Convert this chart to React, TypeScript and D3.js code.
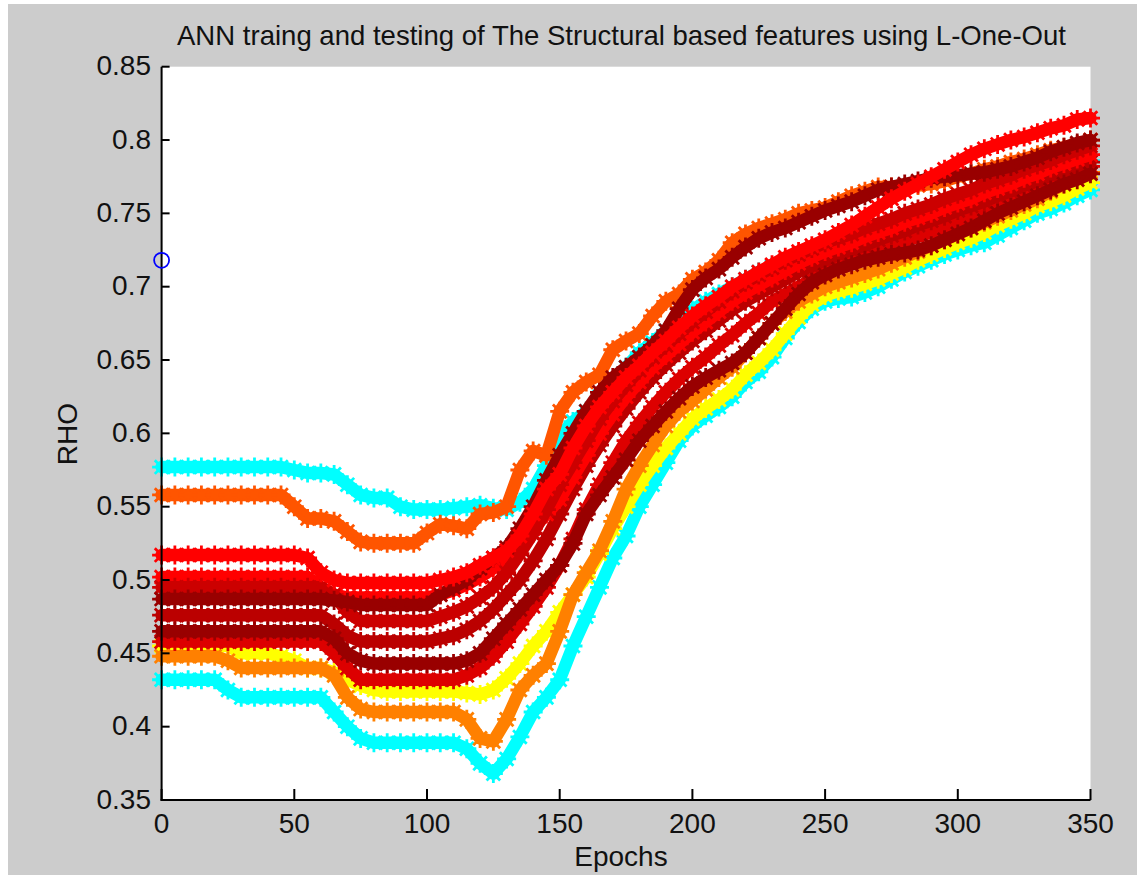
import React from "react";
import * as d3 from "d3";

// Epoch grid of the sampled points
const EPOCHS: number[] = d3.range(0, 351, 5);

const X_TICKS = [0, 50, 100, 150, 200, 250, 300, 350];
const Y_TICKS = [0.35, 0.4, 0.45, 0.5, 0.55, 0.6, 0.65, 0.7, 0.75, 0.8, 0.85];
const Y_TICK_LABELS = ["0.35", "0.4", "0.45", "0.5", "0.55", "0.6", "0.65", "0.7", "0.75", "0.8", "0.85"];

const TITLE = "ANN traing and testing of The Structural based features using L-One-Out";
const X_LABEL = "Epochs";
const Y_LABEL = "RHO";

// single point (blue circle)
const CIRCLE_POINT = { epoch: 0, rho: 0.718 };

// Series values, one per entry of EPOCHS (0,5,...,350)
const cyanHigh = [
  0.577, 0.577, 0.577, 0.577, 0.577, 0.577, 0.577, 0.577, 0.577, 0.577,
  0.575, 0.573, 0.573, 0.572, 0.565, 0.558, 0.556, 0.556, 0.55, 0.548,
  0.548, 0.548, 0.549, 0.55, 0.551, 0.549, 0.548, 0.553, 0.562, 0.578,
  0.598, 0.608, 0.615, 0.625, 0.635, 0.645, 0.655, 0.662, 0.67, 0.678,
  0.684, 0.69, 0.695, 0.7, 0.705, 0.71, 0.714, 0.717, 0.72, 0.722,
  0.725, 0.728, 0.73, 0.733, 0.736, 0.738, 0.74, 0.743, 0.746, 0.75,
  0.753, 0.756, 0.76, 0.763, 0.766, 0.77, 0.774, 0.777, 0.78, 0.783,
  0.786,
];
const cyanLow = [
  0.432, 0.432, 0.432, 0.432, 0.432, 0.425, 0.42, 0.42, 0.42, 0.42,
  0.42, 0.42, 0.42, 0.41, 0.4, 0.392, 0.389, 0.389, 0.389, 0.389,
  0.389, 0.389, 0.389, 0.385, 0.375, 0.368, 0.378, 0.393, 0.41, 0.42,
  0.432, 0.455, 0.475, 0.495, 0.515, 0.53, 0.55, 0.565, 0.58, 0.595,
  0.605, 0.612, 0.618, 0.625, 0.635, 0.642, 0.652, 0.665, 0.676, 0.685,
  0.69, 0.692, 0.693, 0.696, 0.7, 0.705, 0.71, 0.714, 0.718, 0.722,
  0.725, 0.728, 0.73, 0.735, 0.74, 0.745, 0.75, 0.753, 0.757, 0.762,
  0.766,
];
const yellow = [
  0.455, 0.455, 0.455, 0.455, 0.455, 0.455, 0.45, 0.45, 0.45, 0.448,
  0.445, 0.44, 0.44, 0.437, 0.432, 0.428, 0.425, 0.424, 0.424, 0.424,
  0.424, 0.424, 0.424, 0.423, 0.422, 0.425, 0.433, 0.443, 0.455, 0.465,
  0.478, 0.49, 0.502, 0.518, 0.535, 0.55, 0.565, 0.578, 0.59, 0.6,
  0.61, 0.617, 0.623, 0.63, 0.64, 0.648, 0.657, 0.668, 0.679, 0.688,
  0.694, 0.697, 0.699, 0.702, 0.705, 0.709, 0.713, 0.718, 0.722, 0.726,
  0.73, 0.733, 0.737, 0.742, 0.746, 0.75, 0.755, 0.758, 0.762, 0.767,
  0.771,
];
const orange = [
  0.448, 0.448, 0.448, 0.448, 0.448, 0.445, 0.44, 0.44, 0.44, 0.44,
  0.44, 0.44, 0.44, 0.435, 0.42, 0.412, 0.41, 0.41, 0.41, 0.41,
  0.41, 0.41, 0.41, 0.405, 0.392, 0.39, 0.405, 0.425, 0.435, 0.443,
  0.465, 0.49, 0.505, 0.52, 0.54, 0.562, 0.578, 0.592, 0.605, 0.615,
  0.622, 0.63, 0.638, 0.645, 0.655, 0.665, 0.675, 0.683, 0.69, 0.695,
  0.7, 0.703, 0.706, 0.709, 0.712, 0.716, 0.72, 0.724, 0.728, 0.732,
  0.736, 0.74, 0.744, 0.748, 0.752, 0.756, 0.76, 0.765, 0.77, 0.775,
  0.778,
];
const orangeRed = [
  0.558, 0.558, 0.558, 0.558, 0.558, 0.558, 0.558, 0.558, 0.558, 0.558,
  0.55, 0.542, 0.542, 0.54, 0.533, 0.526, 0.525, 0.525, 0.525, 0.525,
  0.532, 0.538, 0.537, 0.535, 0.545, 0.546, 0.55, 0.575, 0.588, 0.585,
  0.615, 0.628, 0.635, 0.64, 0.657, 0.663, 0.668, 0.68, 0.69, 0.695,
  0.705, 0.71, 0.718, 0.73, 0.736, 0.74, 0.743, 0.746, 0.75, 0.752,
  0.754, 0.758, 0.762, 0.765, 0.768, 0.768, 0.768, 0.769, 0.77, 0.772,
  0.775, 0.777, 0.78, 0.782, 0.785, 0.787, 0.79, 0.793, 0.795, 0.797,
  0.8,
];
const redLow = [
  0.458, 0.458, 0.458, 0.458, 0.458, 0.458, 0.458, 0.458, 0.458, 0.458,
  0.458, 0.458, 0.458, 0.45, 0.44, 0.432, 0.432, 0.432, 0.432, 0.432,
  0.432, 0.432, 0.432, 0.435, 0.44, 0.448, 0.458, 0.47, 0.482, 0.495,
  0.51, 0.528, 0.548, 0.565, 0.58, 0.595, 0.607, 0.618, 0.628, 0.637,
  0.645, 0.652, 0.66, 0.667, 0.675, 0.682, 0.69, 0.695, 0.7, 0.705,
  0.71, 0.714, 0.718, 0.722, 0.725, 0.728, 0.731, 0.734, 0.737, 0.74,
  0.744, 0.748, 0.752, 0.756, 0.76, 0.764, 0.768, 0.772, 0.775, 0.779,
  0.782,
];
const crimson2 = [
  0.476, 0.476, 0.476, 0.476, 0.476, 0.476, 0.476, 0.476, 0.476, 0.476,
  0.476, 0.476, 0.476, 0.47, 0.462, 0.458, 0.458, 0.458, 0.458, 0.458,
  0.458, 0.46, 0.462, 0.466, 0.472, 0.48, 0.49, 0.5, 0.513, 0.528,
  0.545, 0.562, 0.578, 0.592, 0.605, 0.617, 0.628, 0.638, 0.647, 0.655,
  0.663, 0.67, 0.677, 0.684, 0.69, 0.695, 0.7, 0.705, 0.71, 0.714,
  0.718, 0.722, 0.725, 0.728, 0.732, 0.735, 0.738, 0.742, 0.745, 0.748,
  0.752, 0.755, 0.758, 0.762, 0.765, 0.769, 0.772, 0.776, 0.779, 0.782,
  0.785,
];
const darkRedLow = [
  0.465, 0.465, 0.465, 0.465, 0.465, 0.465, 0.465, 0.465, 0.465, 0.465,
  0.465, 0.465, 0.465, 0.46, 0.45, 0.445, 0.443, 0.443, 0.443, 0.443,
  0.443, 0.443, 0.443, 0.445, 0.45, 0.46, 0.47, 0.48, 0.49, 0.5,
  0.51, 0.525, 0.545, 0.558, 0.57, 0.582, 0.595, 0.605, 0.615, 0.624,
  0.632, 0.638, 0.643, 0.648, 0.655, 0.665, 0.675, 0.685, 0.695, 0.703,
  0.708, 0.712, 0.715, 0.718, 0.72, 0.722, 0.723, 0.725, 0.728, 0.732,
  0.736, 0.74, 0.745, 0.75, 0.754, 0.758, 0.762, 0.766, 0.77, 0.773,
  0.777,
];
const redMid = [
  0.502, 0.502, 0.502, 0.502, 0.502, 0.502, 0.502, 0.502, 0.502, 0.502,
  0.502, 0.502, 0.495, 0.49, 0.488, 0.488, 0.488, 0.488, 0.488, 0.488,
  0.488, 0.49, 0.493, 0.497, 0.502, 0.508, 0.515, 0.525, 0.535, 0.545,
  0.555, 0.57, 0.585, 0.6, 0.613, 0.625, 0.635, 0.645, 0.653, 0.661,
  0.669, 0.676, 0.683, 0.69, 0.696, 0.701, 0.706, 0.711, 0.716, 0.72,
  0.724, 0.727, 0.73, 0.734, 0.737, 0.74, 0.744, 0.747, 0.75, 0.754,
  0.757, 0.76, 0.764, 0.767, 0.77, 0.774, 0.777, 0.781, 0.784, 0.787,
  0.79,
];
const crimson1 = [
  0.495, 0.495, 0.495, 0.495, 0.495, 0.495, 0.495, 0.495, 0.495, 0.495,
  0.495, 0.495, 0.495, 0.49, 0.478, 0.472, 0.472, 0.472, 0.472, 0.472,
  0.472, 0.475, 0.478, 0.482, 0.488, 0.495, 0.505, 0.518, 0.532, 0.548,
  0.565, 0.58, 0.595, 0.61, 0.622, 0.633, 0.643, 0.652, 0.66, 0.668,
  0.676, 0.683, 0.69, 0.697, 0.703, 0.708, 0.713, 0.718, 0.722, 0.726,
  0.73, 0.733, 0.736, 0.74, 0.743, 0.746, 0.75, 0.753, 0.756, 0.76,
  0.763, 0.766, 0.77, 0.773, 0.776, 0.78, 0.783, 0.786, 0.79, 0.793,
  0.796,
];
const darkRedTop = [
  0.487, 0.487, 0.487, 0.487, 0.487, 0.487, 0.487, 0.487, 0.487, 0.487,
  0.487, 0.487, 0.487, 0.486, 0.485, 0.483, 0.483, 0.483, 0.483, 0.483,
  0.483, 0.49, 0.495, 0.5, 0.508, 0.515, 0.522, 0.535, 0.55, 0.568,
  0.585, 0.6, 0.615, 0.628, 0.638, 0.645, 0.652, 0.66, 0.67, 0.685,
  0.698, 0.706, 0.712, 0.72, 0.727, 0.733, 0.737, 0.74, 0.744, 0.748,
  0.752, 0.755, 0.758, 0.762, 0.766, 0.768, 0.77, 0.772, 0.774, 0.775,
  0.776, 0.777, 0.778, 0.78, 0.782, 0.785, 0.788, 0.792, 0.795, 0.798,
  0.8,
];
const redHigh = [
  0.517, 0.517, 0.517, 0.517, 0.517, 0.517, 0.517, 0.517, 0.517, 0.517,
  0.517, 0.515, 0.505, 0.5, 0.498, 0.498, 0.498, 0.498, 0.498, 0.498,
  0.498, 0.5, 0.502, 0.505, 0.51, 0.515, 0.52, 0.53, 0.545, 0.562,
  0.572, 0.59, 0.605, 0.618, 0.628, 0.638, 0.646, 0.655, 0.663, 0.672,
  0.68, 0.687, 0.693, 0.7, 0.705, 0.71, 0.715, 0.72, 0.724, 0.728,
  0.732, 0.737, 0.742, 0.748, 0.754, 0.76, 0.765, 0.77, 0.775, 0.78,
  0.785, 0.79, 0.794, 0.797, 0.8, 0.802, 0.805, 0.808, 0.81, 0.814,
  0.815,
];

// drawing order: first drawn is underneath
const SERIES_NAMES = [
  "cyanHigh", "cyanLow", "yellow", "orange", "orangeRed", "redLow",
  "crimson2", "darkRedLow", "redMid", "crimson1", "darkRedTop", "redHigh",
];
const SERIES_VALUES = [
  cyanHigh, cyanLow, yellow, orange, orangeRed, redLow,
  crimson2, darkRedLow, redMid, crimson1, darkRedTop, redHigh,
];
const SERIES_COLORS = [
  "#00ffff", "#00ffff", "#ffff00", "#ff8000", "#ff5500", "#dd0000",
  "#bb0000", "#990000", "#ff0000", "#cc0000", "#990000", "#ff0000",
];

const W = 1139;
const H = 875;
const FONT = "'Liberation Sans', Arial, Helvetica, sans-serif";

export default function App() {
  const x = d3.scaleLinear().domain([0, 350]).range([161.6, 1090.5]);
  const y = d3.scaleLinear().domain([0.35, 0.85]).range([800, 66.7]);
  const [x0, x1] = x.range();
  const [y0, y1] = y.range();

  const r = 9.5;
  const d = 6.8;
  const star = `M${-r},0H${r}M0,${-r}V${r}M${-d},${-d}L${d},${d}M${-d},${d}L${d},${-d}`;

  const line = d3
    .line<number>()
    .x((_, i) => x(EPOCHS[i]))
    .y((v) => y(v));

  return (
    <svg
      width={W}
      height={H}
      style={{ position: "absolute", left: 0, top: 0, display: "block" }}
      fontFamily={FONT}
    >
      <rect x={0} y={0} width={W} height={H} fill="#ffffff" />
      <rect x={8} y={4} width={1129} height={H - 4} fill="#cccccc" />
      <rect x={x0} y={y1} width={x1 - x0} height={y0 - y1} fill="#ffffff" />

      {SERIES_VALUES.map((vals, si) => (
        <g key={SERIES_NAMES[si]} stroke={SERIES_COLORS[si]} fill="none">
          <path
            d={line(vals) || ""}
            strokeWidth={12.5}
            strokeLinejoin="round"
            strokeLinecap="round"
          />
          <g strokeWidth={2.8}>
            {vals.map((v, i) => (
              <path
                key={i}
                d={star}
                transform={`translate(${x(EPOCHS[i]).toFixed(2)},${y(v).toFixed(2)})`}
              />
            ))}
          </g>
        </g>
      ))}

      {/* axes */}
      <g stroke="#000" strokeWidth={2} fill="none">
        <line x1={x0} y1={y0 + 1} x2={x0} y2={y1} />
        <line x1={x0 - 1} y1={y0} x2={x1} y2={y0} />
        {X_TICKS.map((t) => (
          <line key={t} x1={x(t)} y1={y0} x2={x(t)} y2={y0 - 11} />
        ))}
        {Y_TICKS.map((t) => (
          <line key={t} x1={x0} y1={y(t)} x2={x0 + 8} y2={y(t)} />
        ))}
      </g>

      <circle
        cx={x(CIRCLE_POINT.epoch)}
        cy={y(CIRCLE_POINT.rho)}
        r={7.5}
        fill="none"
        stroke="#0000ff"
        strokeWidth={1.8}
      />

      <g fontSize={28} fill="#111">
        {X_TICKS.map((t) => (
          <text key={t} x={x(t)} y={833} textAnchor="middle">
            {String(t)}
          </text>
        ))}
        {Y_TICKS.map((t, i) => (
          <text key={t} x={151} y={y(t) + 8.5} textAnchor="end">
            {Y_TICK_LABELS[i]}
          </text>
        ))}
        <text x={621} y={866} textAnchor="middle">
          {X_LABEL}
        </text>
        <text x={77} y={434} textAnchor="middle" transform="rotate(-90,77,434)">
          {Y_LABEL}
        </text>
        <text x={177} y={45} textLength={889} lengthAdjust="spacingAndGlyphs">
          {TITLE}
        </text>
      </g>
    </svg>
  );
}
